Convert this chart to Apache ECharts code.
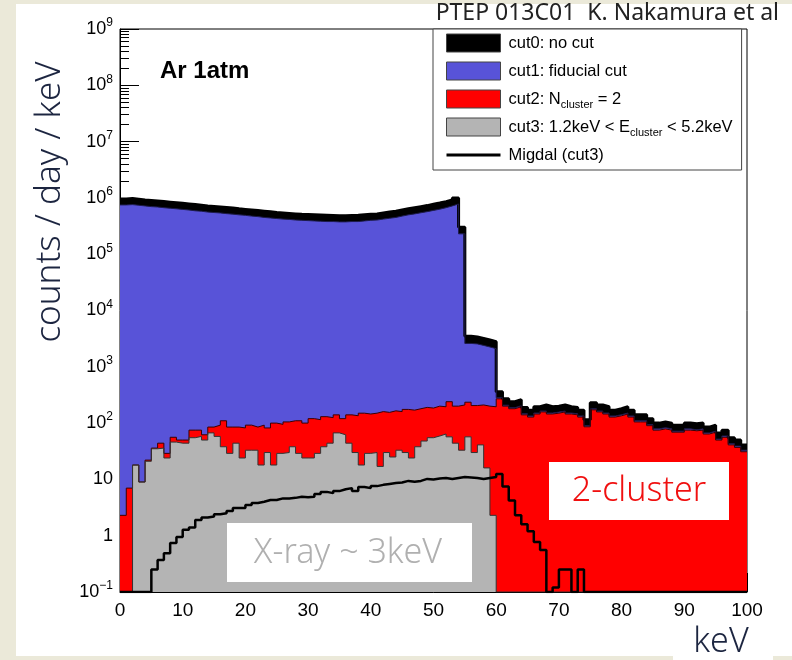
<!DOCTYPE html>
<html><head><meta charset="utf-8">
<script src="https://cdn.jsdelivr.net/npm/echarts@6/dist/echarts.min.js"></script>
<style>
html,body{margin:0;padding:0;background:#ebe9d9;width:792px;height:660px;overflow:hidden;}
#panel{position:absolute;left:16px;top:4px;width:776px;height:652px;background:#fff;}
#kevbox{position:absolute;left:673px;top:620px;width:100px;height:40px;background:#fff;}
#chart{position:absolute;left:0;top:0;width:792px;height:660px;}
</style></head>
<body><div id="panel"></div><div id="kevbox"></div><div id="chart"></div>
<script>
// ---------- data (1 keV bins, 0..100 keV) ----------
const binWidth = 1;
const yMin = 0.1, yMax = 1e9;
const xTicks = [0,10,20,30,40,50,60,70,80,90,100];

const cut0 = [
 9.6e5,9.8e5,9.5e5,9.2e5,9.0e5,8.8e5,8.6e5,8.4e5,8.2e5,8.0e5,
 7.8e5,7.6e5,7.4e5,7.2e5,7.05e5,6.9e5,6.75e5,6.6e5,6.4e5,6.25e5,
 6.1e5,5.95e5,5.8e5,5.65e5,5.5e5,5.4e5,5.3e5,5.2e5,5.1e5,5.05e5,
 5.0e5,4.95e5,4.9e5,4.85e5,4.8e5,4.8e5,4.85e5,4.9e5,5.0e5,5.1e5,
 5.2e5,5.4e5,5.6e5,5.8e5,6.1e5,6.4e5,6.7e5,7.0e5,7.3e5,7.7e5,
 8.1e5,8.6e5,9.2e5,1.0e6,3.0e5,3500,3400,3200,3000,2800,
 360,270,240,260,190,170,195,210,195,200,
 210,195,190,170,115,230,210,195,170,180,
 195,170,140,140,120,100,105,100,92,92,
 100,97,100,85,92,67,75,55,50,41
];
const cut1 = [
 7.5e5,7.6e5,7.4e5,7.2e5,7.0e5,6.9e5,6.7e5,6.55e5,6.4e5,6.25e5,
 6.1e5,5.9e5,5.8e5,5.6e5,5.5e5,5.4e5,5.25e5,5.15e5,5.0e5,4.9e5,
 4.75e5,4.65e5,4.5e5,4.4e5,4.3e5,4.2e5,4.15e5,4.05e5,4.0e5,3.95e5,
 3.9e5,3.85e5,3.8e5,3.8e5,3.75e5,3.75e5,3.8e5,3.8e5,3.9e5,4.0e5,
 4.05e5,4.2e5,4.35e5,4.5e5,4.75e5,5.0e5,5.2e5,5.45e5,5.7e5,6.0e5,
 6.3e5,6.7e5,7.2e5,7.8e5,2.3e5,2600,2550,2400,2250,2100,
 282,208,188,203,146,134,151,164,151,157,
 164,151,146,134,90,179,164,151,134,141,
 151,134,110,110,94,79,83,79,72,72,
 79,76,79,67,72,52,59,43,39,33
];
const cut2 = [
 2.3,7,18,9,22,36,44,29,56,50,
 50,75,75,62,85,92,110,85,85,82,
 92,85,92,82,100,95,105,110,110,100,
 120,115,130,125,140,120,140,135,150,145,
 150,160,155,165,160,175,170,180,190,185,
 200,195,240,200,210,235,205,210,200,195,
 270,200,180,195,140,128,145,158,145,150,
 158,145,140,128,86,172,158,145,128,135,
 145,128,105,105,90,75,79,75,69,69,
 75,73,75,64,69,50,56,41,37,31
];
const cut3 = [
 0,0,18,9,21,35,36,24,46,44,
 44,55,58,50,67,58,38,29,44,24,
 33,33,18,30,18,29,30,38,29,24,
 24,29,38,44,67,62,44,30,18,29,
 30,17,30,25,33,30,24,38,48,55,
 59,64,57,44,33,57,30,41,16,2.3,
 0,0,0,0,0,0,0,0,0,0,
 0,0,0,0,0,0,0,0,0,0,
 0,0,0,0,0,0,0,0,0,0,
 0,0,0,0,0,0,0,0,0,0
];
const migdal = [
 0,0,0,0,0,0.25,0.37,0.49,0.74,0.95,
 1.27,1.4,1.9,2.1,2.2,2.4,2.5,2.75,3.1,3.1,
 3.5,3.8,4.0,4.3,4.3,4.6,4.6,4.7,4.9,4.8,
 4.9,5.5,6.0,5.7,6.2,6.7,7.0,6.2,7.3,7.0,
 7.6,8.0,8.3,8.6,8.8,9.4,9.1,9.4,10.2,10.0,
 10.4,10.6,10.2,10.6,11,10.8,10.6,10.2,10.6,11,
 12.5,7.5,4.2,2.3,1.6,1.2,0.77,0.56,0,0.12,
 0.25,0.25,0,0.25,0,0,0,0,0,0,
 0,0,0,0,0,0,0,0,0,0,
 0,0,0,0,0,0,0,0,0,0
];

const names = ['cut0: no cut','cut1: fiducial cut','cut2: Ncluster = 2','cut3: 1.2keV < Ecluster < 5.2keV','Migdal (cut3)'];
const richNames = {
  'cut0: no cut':'cut0: no cut',
  'cut1: fiducial cut':'cut1: fiducial cut',
  'cut2: Ncluster = 2':'cut2: N{sub|cluster} = 2',
  'cut3: 1.2keV < Ecluster < 5.2keV':'cut3: 1.2keV < E{sub|cluster} < 5.2keV',
  'Migdal (cut3)':'Migdal (cut3)'
};
const fills = ['#000000','#5853d8','#ff0000','#b4b4b4'];

// histogram edges -> step points (empty bins sit on the axis floor)
function steps(vals){
  const pts = vals.map((v,i)=>[i*binWidth, Math.max(v,yMin)]);
  pts.push([vals.length*binWidth, Math.max(vals[vals.length-1],yMin)]);
  return pts;
}

function areaSeries(name, vals, fill, stroke, lw){
  return {name, type:'line', step:'end', symbol:'none', data:steps(vals),
    lineStyle:{color:stroke, width:lw}, itemStyle:{color:fill},
    areaStyle:{color:fill, opacity:1, origin:yMin}, animation:false, silent:true};
}

const chart = echarts.init(document.getElementById('chart'), null, {renderer:'canvas'});
const supLabel = v => {
  const e = Math.round(Math.log10(v));
  if (e === 0) return '1';
  if (e === 1) return '10';
  return '10{sup|' + (e<0 ? '\u2212'+(-e) : e) + '}';
};
chart.setOption({
  backgroundColor:'transparent',
  animation:false,
  grid:{left:120, right:45, top:29, bottom:68, show:true, borderColor:'#000', borderWidth:1, backgroundColor:'transparent'},
  xAxis:{type:'value', min:xTicks[0], max:xTicks[xTicks.length-1], interval:10,
    axisLine:{show:true, onZero:false, lineStyle:{color:'#000', width:1}},
    axisTick:{show:true, inside:true, length:19, lineStyle:{color:'#000'}},
    splitLine:{show:false},
    axisLabel:{color:'#000', fontFamily:'Liberation Sans', fontSize:19, margin:9}},
  yAxis:{type:'log', logBase:10, min:yMin, max:yMax, splitNumber:10,
    axisLine:{show:true, lineStyle:{color:'#000', width:1}},
    axisTick:{show:true, inside:true, length:19, lineStyle:{color:'#000'}},
    minorTick:{show:true, splitNumber:9, length:9, lineStyle:{color:'#000'}},
    splitLine:{show:false},
    axisLabel:{color:'#000', fontFamily:'Liberation Sans', fontSize:18, margin:7,
      formatter:supLabel,
      rich:{sup:{fontSize:12, fontFamily:'Liberation Sans', color:'#000', verticalAlign:'top', lineHeight:24}}}},
  legend:{orient:'vertical', left:433, top:29, padding:[3,9,4,13],
    itemWidth:54, itemHeight:18, itemGap:6, selectedMode:false,
    backgroundColor:'#fff', borderColor:'#444', borderWidth:1,
    textStyle:{fontFamily:'Liberation Sans', fontSize:16.5, color:'#000', lineHeight:22, padding:[0,0,0,3],
      rich:{sub:{fontFamily:'Liberation Sans', fontSize:11, color:'#000', verticalAlign:'bottom', lineHeight:22}}},
    formatter:n=>richNames[n],
    data:[
      {name:names[0], icon:'rect', itemStyle:{color:fills[0], borderColor:'#444', borderWidth:1}},
      {name:names[1], icon:'rect', itemStyle:{color:fills[1], borderColor:'#444', borderWidth:1}},
      {name:names[2], icon:'rect', itemStyle:{color:fills[2], borderColor:'#444', borderWidth:1}},
      {name:names[3], icon:'rect', itemStyle:{color:fills[3], borderColor:'#444', borderWidth:1}},
      {name:names[4], icon:'path://M0,0M0,7.5H54V10.5H0ZM54,18', itemStyle:{color:'#000', borderWidth:0}}
    ]},
  series:[
    areaSeries(names[0], cut0, fills[0], '#000', 3),
    areaSeries(names[1], cut1, fills[1], '#1d1b4a', 1),
    areaSeries(names[2], cut2, fills[2], '#3a0000', 1),
    areaSeries(names[3], cut3, fills[3], '#333', 1),
    {name:names[4], type:'line', step:'end', symbol:'none', data:steps(migdal),
     lineStyle:{color:'#000', width:2.5}, itemStyle:{color:'#000'}, animation:false, silent:true}
  ],
  graphic:[
    {type:'text', right:13, top:2, z:100, style:{text:'PTEP 013C01  K. Nakamura et al', font:'23px "Noto Sans"', fill:'#222'}},
    {type:'text', left:160, top:59, z:100, style:{text:'Ar 1atm', font:'bold 24px "Liberation Sans"', fill:'#000'}},
    {type:'text', x:50, y:202, rotation:Math.PI/2, z:100, style:{text:'counts / day / keV', font:'300 35px "Noto Sans"', fill:'#1c2540', align:'center', verticalAlign:'middle'}},
    {type:'text', x:721, y:642, z:100, style:{text:'keV', font:'300 34px "Noto Sans"', fill:'#1c2540', align:'center', verticalAlign:'middle'}},
    {type:'rect', z:100, shape:{x:549, y:462, width:180, height:58}, style:{fill:'#fff'}},
    {type:'text', x:639, y:491, z:101, style:{text:'2-cluster', font:'300 34px "Noto Sans"', fill:'#f01010', align:'center', verticalAlign:'middle'}},
    {type:'rect', z:100, shape:{x:227, y:523, width:245, height:59}, style:{fill:'#fff'}},
    {type:'text', x:348, y:553, z:101, style:{text:'X-ray ~ 3keV', font:'300 34px "Noto Sans"', fill:'#b0b0b0', align:'center', verticalAlign:'middle'}}
  ]
});
</script></body></html>
